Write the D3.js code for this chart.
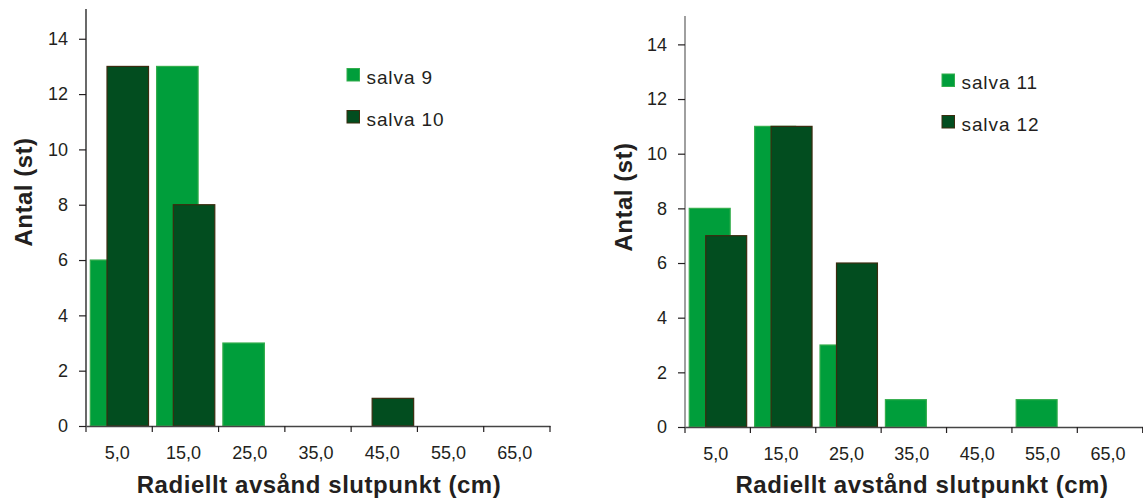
<!DOCTYPE html>
<html>
<head>
<meta charset="utf-8">
<script src="https://cdn.jsdelivr.net/npm/d3@7/dist/d3.min.js"></script>
<style>
  html, body { margin: 0; padding: 0; background: #fff; }
  svg { display: block; font-family: "Liberation Sans", Arial, sans-serif; }
  .tick text { fill: #231f20; }
</style>
</head>
<body>
<svg id="chart" width="1143" height="502"></svg>
<script>
// Distance classes (cm) shared by both panels
const categories = ["5,0", "15,0", "25,0", "35,0", "45,0", "55,0", "65,0"];
const yTicks = [0, 2, 4, 6, 8, 10, 12, 14];

// Left panel: salvos 9 and 10
const salva9 = [6, 13, 3, 0, 0, 0, 0];
const salva10 = [13, 8, 0, 0, 1, 0, 0];
// Right panel: salvos 11 and 12
const salva11 = [8, 11, 3, 1, 0, 1, 0];
const salva12 = [7, 11, 6, 0, 0, 0, 0];

const xTitleLeft = "Radiellt avsånd slutpunkt (cm)";
const xTitleRight = "Radiellt avstånd slutpunkt (cm)";
const yTitle = "Antal (st)";

const LIGHT = { fill: "#009e3b", stroke: "#33ad4c" };
const DARK = { fill: "#024d1f", stroke: "#3b2c0f" };

const svg = d3.select("#chart");

function panel(cfg) {
  const g = svg.append("g");
  const x = d3.scaleBand().domain(categories).range([cfg.x0, cfg.x1]).padding(0);
  const y = d3.scaleLinear().domain([0, 15]).range([cfg.yBase, cfg.yTop]);
  const bw = x.bandwidth();
  // position of each series within a class (bars overlap, dark in front)
  const inner = d3.scaleLinear().domain([0, 1]).range([0, bw]);
  const barW = inner(0.626);

  const seriesDefs = [
    { name: cfg.names[0], values: cfg.series[0], off: 0.065, style: LIGHT },
    { name: cfg.names[1], values: cfg.series[1], off: 0.317, style: DARK }
  ];

  seriesDefs.forEach(s => {
    g.append("g").selectAll("rect")
      .data(categories.map((c, i) => ({ c, v: s.values[i] })).filter(d => d.v > 0))
      .join("rect")
      .attr("x", d => x(d.c) + inner(s.off))
      .attr("y", d => y(d.v))
      .attr("width", barW)
      .attr("height", d => y(0) - y(d.v))
      .attr("fill", s.style.fill)
      .attr("stroke", s.style.stroke)
      .attr("stroke-width", 1.2);
  });

  // y axis
  const ya = g.append("g")
    .attr("transform", `translate(${cfg.x0},0)`)
    .call(d3.axisLeft(y).tickValues(yTicks).tickSize(7).tickPadding(11).tickFormat(d3.format("d")));
  ya.select(".domain").attr("d", `M0,${y(0)}V${cfg.axisTop}`).attr("stroke", cfg.axisColor).attr("stroke-width", 1.6);
  ya.selectAll(".tick line").attr("stroke", "#231f20").attr("stroke-width", 1.2);
  ya.selectAll(".tick text").attr("font-size", 18).attr("font-family", "Liberation Sans, Arial, sans-serif");

  // x axis: labels centred in classes, tick marks at class boundaries
  const xa = g.append("g")
    .attr("transform", `translate(0,${y(0)})`)
    .call(d3.axisBottom(x).tickSize(0).tickPadding(20));
  xa.select(".domain").attr("stroke", "#444").attr("stroke-width", 1.4);
  xa.selectAll(".tick text").attr("font-size", 18).attr("dx", -2)
    .attr("font-family", "Liberation Sans, Arial, sans-serif");
  const bounds = categories.map(c => x(c)).concat([x.range()[1]]);
  xa.selectAll("line.bound").data(bounds).join("line")
    .attr("class", "bound")
    .attr("x1", d => d).attr("x2", d => d)
    .attr("y1", 0).attr("y2", 6)
    .attr("stroke", "#231f20").attr("stroke-width", 1.2);

  // axis titles
  g.append("text")
    .attr("x", cfg.xTitleX).attr("y", 493)
    .attr("text-anchor", "middle")
    .attr("font-size", 24).attr("font-weight", "bold")
    .attr("letter-spacing", 0.55)
    .attr("fill", "#231f20")
    .text(cfg.xTitle);
  g.append("text")
    .attr("transform", `translate(${cfg.yTitleX},${cfg.yTitleY}) rotate(-90)`)
    .attr("text-anchor", "middle")
    .attr("font-size", 24).attr("font-weight", "bold")
    .attr("letter-spacing", 0.5)
    .attr("fill", "#231f20")
    .text(yTitle);

  // legend
  const lg = g.append("g");
  seriesDefs.forEach((s, i) => {
    const ly = cfg.legY[i];
    lg.append("rect")
      .attr("x", cfg.legX).attr("y", ly)
      .attr("width", 12.5).attr("height", 12.5)
      .attr("fill", s.style.fill).attr("stroke", s.style.stroke).attr("stroke-width", 1);
    lg.append("text")
      .attr("x", cfg.legX + 19.5).attr("y", ly + 15)
      .attr("font-size", 19).attr("letter-spacing", 0.9)
      .attr("fill", "#231f20")
      .text(s.name);
  });
}

panel({
  x0: 86, x1: 550, yBase: 426, yTop: 426 - 15 * 27.66, axisTop: 9,
  series: [salva9, salva10], names: ["salva 9", "salva 10"],
  xTitle: xTitleLeft, xTitleX: 319, yTitleX: 32, yTitleY: 192,
  legX: 347, legY: [68.5, 110.5], axisColor: "#444"
});

panel({
  x0: 685, x1: 1142.7, yBase: 427, yTop: 427 - 15 * 27.33, axisTop: 16,
  series: [salva11, salva12], names: ["salva 11", "salva 12"],
  xTitle: xTitleRight, xTitleX: 922, yTitleX: 632, yTitleY: 197,
  legX: 942, legY: [74, 115.5], axisColor: "#888"
});
</script>
</body>
</html>
